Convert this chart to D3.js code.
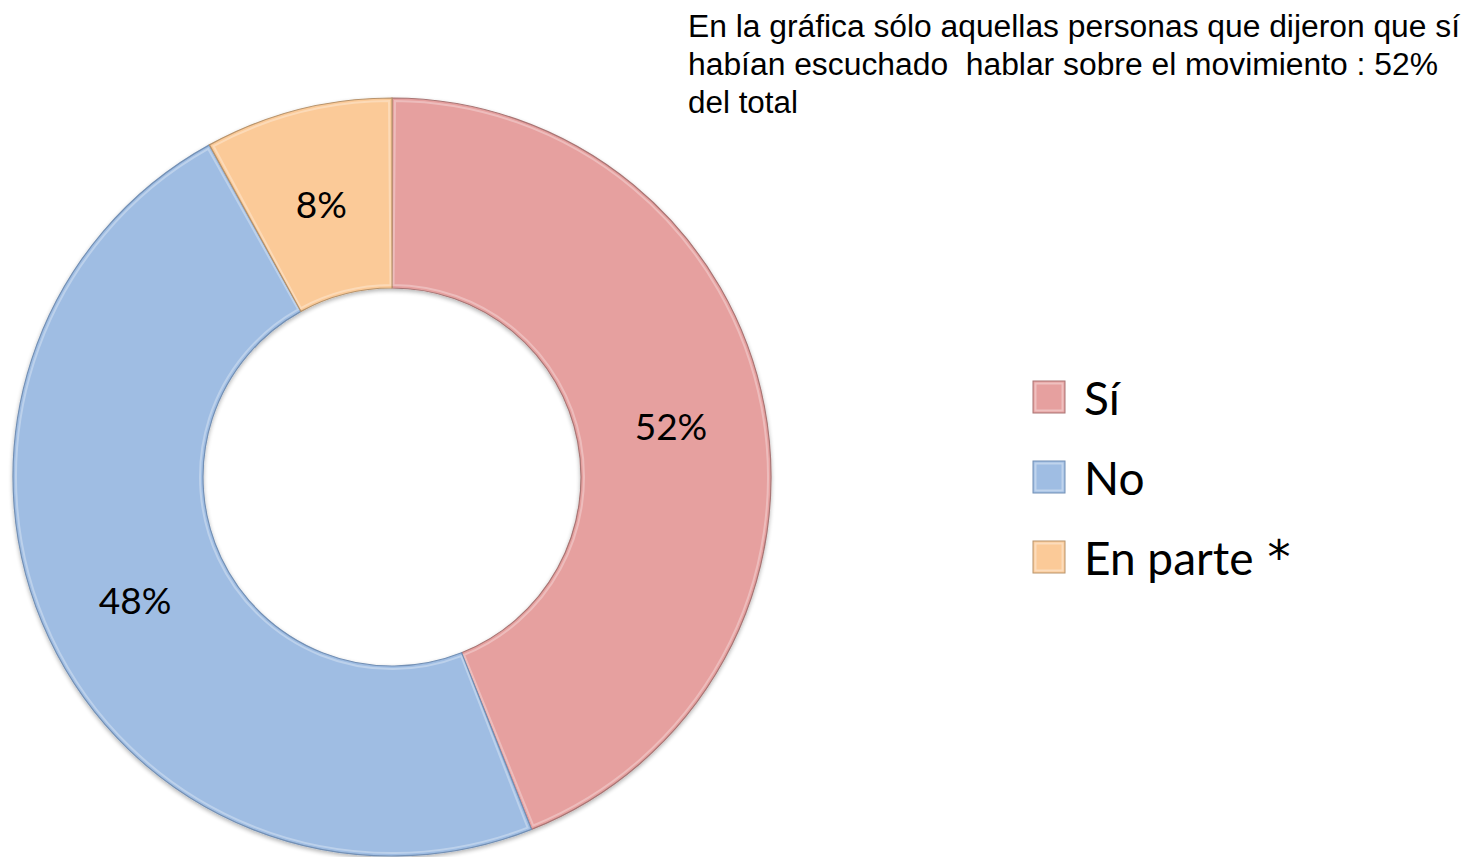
<!DOCTYPE html>
<html>
<head>
<meta charset="utf-8">
<script src="https://cdn.jsdelivr.net/npm/d3@7"></script>
<style>
  html, body { margin: 0; padding: 0; background: #ffffff; }
  svg { display: block; }
</style>
</head>
<body>
<svg id="chart" width="1466" height="857"></svg>
<script>
// Categories and values (arc sizes; labels as printed)
const categories = ["Sí", "No", "En parte *"];
const sliceValues = [44, 48, 8];
const sliceLabels = ["52%", "48%", "8%"];
const colors = ["#E6A09F", "#9FBDE3", "#FBCA98"];
const strokeColors = ["#a97574", "#7390b5", "#b8946c"];
const noteLines = [
  "En la gráfica sólo aquellas personas que dijeron que sí",
  "habían escuchado  hablar sobre el movimiento : 52%",
  "del total"
];

const svg = d3.select("#chart");
const cx = 392, cy = 477, rOuter = 379, rInner = 189;

const defs = svg.append("defs");
const shadow = defs.append("filter").attr("id", "shadow")
  .attr("x", "-10%").attr("y", "-10%").attr("width", "120%").attr("height", "120%");
shadow.append("feGaussianBlur").attr("in", "SourceAlpha").attr("stdDeviation", 2).attr("result", "blur");
shadow.append("feOffset").attr("in", "blur").attr("dx", 0).attr("dy", 2).attr("result", "off");
shadow.append("feComponentTransfer").attr("in", "off").attr("result", "offA")
  .append("feFuncA").attr("type", "linear").attr("slope", 0.3);
const merge = shadow.append("feMerge");
merge.append("feMergeNode").attr("in", "offA");
merge.append("feMergeNode").attr("in", "SourceGraphic");

const pie = d3.pie().sort(null).value(d => d.v).startAngle(0).endAngle(2 * Math.PI);
const data = categories.map((c, i) => ({ c, v: sliceValues[i], label: sliceLabels[i], color: colors[i], stroke: strokeColors[i] }));
const arcs = pie(data);
const arc = d3.arc().innerRadius(rInner).outerRadius(rOuter);
const arcHi = d3.arc().innerRadius(rInner + 3).outerRadius(rOuter - 3);

const g = svg.append("g").attr("transform", `translate(${cx},${cy})`);
const sg = g.append("g").attr("filter", "url(#shadow)");
sg.selectAll("path.slice").data(arcs).join("path")
  .attr("class", "slice")
  .attr("d", arc)
  .attr("fill", d => d.data.color)
  .attr("stroke", d => d.data.stroke)
  .attr("stroke-width", 1.2);
// subtle bevel highlight
g.selectAll("path.hi").data(arcs).join("path")
  .attr("class", "hi")
  .attr("d", d => arcHi({ startAngle: d.startAngle + 0.008, endAngle: d.endAngle - 0.008 }))
  .attr("fill", "none")
  .attr("stroke", "#ffffff")
  .attr("stroke-opacity", 0.3)
  .attr("stroke-width", 2);

// Data labels
g.selectAll("text.lbl").data(arcs).join("text")
  .attr("class", "lbl")
  .attr("x", d => arc.centroid(d)[0])
  .attr("y", d => arc.centroid(d)[1] + 2)
  .attr("text-anchor", "middle")
  .attr("dominant-baseline", "central")
  .attr("font-family", "Lato, 'Open Sans', sans-serif")
  .attr("font-size", 37)
  .attr("fill", "#000")
  .text(d => d.data.label);

// Legend
const legend = svg.append("g").attr("transform", "translate(1033,381)");
const rowH = 80;
const lg = legend.selectAll("g").data(data).join("g")
  .attr("transform", (d, i) => `translate(0,${i * rowH})`);
lg.append("rect").attr("x", 0).attr("y", 0).attr("width", 32).attr("height", 32)
  .attr("fill", d => d.color).attr("stroke", d => d.stroke).attr("stroke-width", 1);
lg.append("rect").attr("x", 2.5).attr("y", 2.5).attr("width", 27).attr("height", 27)
  .attr("fill", "none").attr("stroke", "#fff").attr("stroke-opacity", 0.35).attr("stroke-width", 2);
const lt = lg.append("text").attr("x", 51).attr("y", 16)
  .attr("dominant-baseline", "central")
  .attr("font-family", "Lato, 'Open Sans', sans-serif")
  .attr("font-size", 46)
  .attr("fill", "#000")
  .style("white-space", "pre");
lt.each(function(d) {
  const t = d3.select(this);
  if (d.c.endsWith("*")) {
    t.append("tspan").text(d.c.slice(0, -2));
    t.append("tspan").attr("dx", 14).attr("font-family", "'DejaVu Sans', sans-serif").attr("font-size", 46).text("*");
  } else {
    t.text(d.c);
  }
});

// Note text
const noteWidths = [772, 750, 110];
svg.append("g").selectAll("text").data(noteLines).join("text")
  .attr("x", 688)
  .attr("y", (d, i) => 37 + i * 38)
  .attr("font-family", "'Liberation Sans', Arial, sans-serif")
  .attr("font-size", 31)
  .attr("fill", "#000")
  .style("white-space", "pre")
  .attr("textLength", (d, i) => noteWidths[i])
  .attr("lengthAdjust", "spacingAndGlyphs")
  .text(d => d);
</script>
</body>
</html>
